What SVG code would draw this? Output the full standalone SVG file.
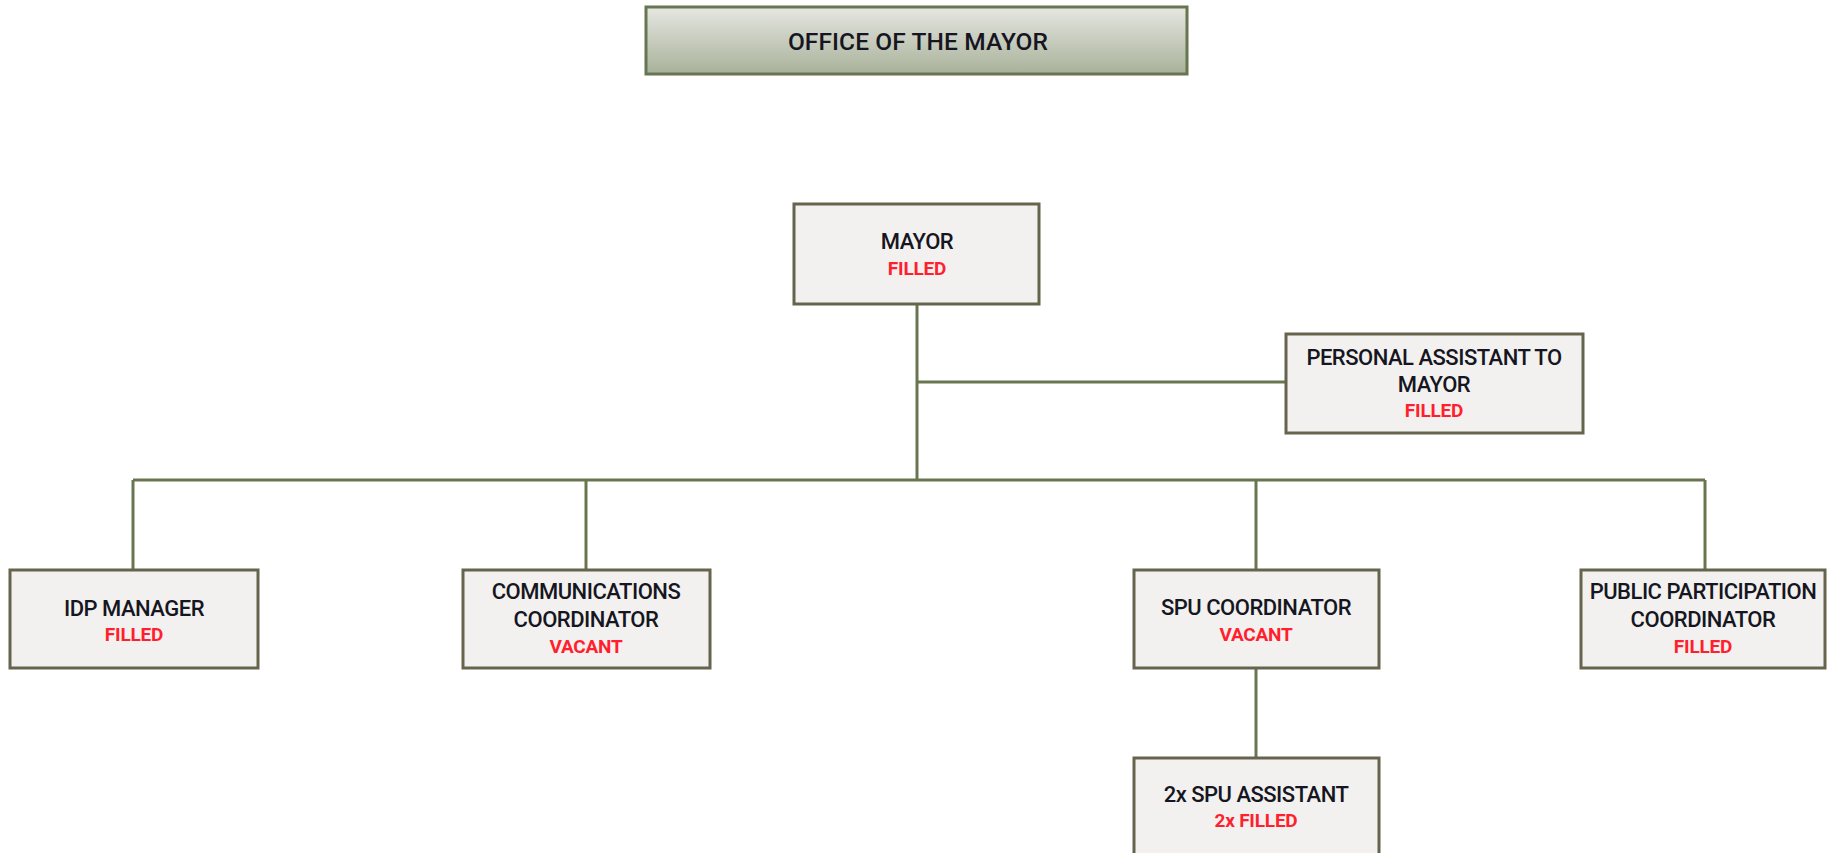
<svg xmlns="http://www.w3.org/2000/svg" width="1827" height="853" viewBox="0 0 1827 853">
  <defs>
    <linearGradient id="titleFill" x1="0" y1="0" x2="0" y2="1">
      <stop offset="0" stop-color="#e6e7e2"/>
      <stop offset="1" stop-color="#a8b199"/>
    </linearGradient>
    <style>
      .box { fill: #f2f1ef; stroke: #66644c; stroke-width: 3; }
      .title { fill: url(#titleFill); stroke: #677651; stroke-width: 3; }
      .link { fill: none; stroke: #687650; stroke-width: 3; }
      .name { font-family: Roboto, "Liberation Sans", sans-serif; font-size: 22px; font-weight: 500; fill: #161622; text-anchor: middle; letter-spacing: -0.5px; }
      .status { font-family: Roboto, "Liberation Sans", sans-serif; font-size: 19px; font-weight: bold; fill: #ff1f2e; text-anchor: middle; letter-spacing: -0.2px; }
      .head { font-family: Roboto, "Liberation Sans", sans-serif; font-size: 24.5px; font-weight: 500; fill: #161622; text-anchor: middle; letter-spacing: 0.1px; }
    </style>
  </defs>

  <rect width="1827" height="853" fill="#ffffff"/>

  <!-- connectors -->
  <g id="connectors">
    <path class="link" d="M917 304 V480"/>
    <path class="link" d="M917 382 H1286"/>
    <path class="link" d="M133 480 H1705"/>
    <path class="link" d="M133 480 V570"/>
    <path class="link" d="M586 480 V570"/>
    <path class="link" d="M1256 480 V570"/>
    <path class="link" d="M1705 480 V570"/>
    <path class="link" d="M1256 668 V758"/>
  </g>

  <g id="office">
    <rect class="title" x="646" y="7" width="541" height="67"/>
    <text class="head" x="918" y="50">OFFICE OF THE MAYOR</text>
  </g>

  <g id="mayor">
    <rect class="box" x="794" y="204" width="245" height="100"/>
    <text class="name" x="917" y="249">MAYOR</text>
    <text class="status" x="917" y="275">FILLED</text>
  </g>

  <g id="personal-assistant">
    <rect class="box" x="1286" y="334" width="297" height="99"/>
    <text class="name" x="1434" y="365">PERSONAL ASSISTANT TO</text>
    <text class="name" x="1434" y="392">MAYOR</text>
    <text class="status" x="1434" y="417">FILLED</text>
  </g>

  <g id="idp-manager">
    <rect class="box" x="10" y="570" width="248" height="98"/>
    <text class="name" x="134" y="616">IDP MANAGER</text>
    <text class="status" x="134" y="641">FILLED</text>
  </g>

  <g id="communications">
    <rect class="box" x="463" y="570" width="247" height="98"/>
    <text class="name" x="586" y="599">COMMUNICATIONS</text>
    <text class="name" x="586" y="627">COORDINATOR</text>
    <text class="status" x="586" y="653">VACANT</text>
  </g>

  <g id="spu-coordinator">
    <rect class="box" x="1134" y="570" width="245" height="98"/>
    <text class="name" x="1256" y="615">SPU COORDINATOR</text>
    <text class="status" x="1256" y="641">VACANT</text>
  </g>

  <g id="public-participation">
    <rect class="box" x="1581" y="570" width="244" height="98"/>
    <text class="name" x="1703" y="599">PUBLIC PARTICIPATION</text>
    <text class="name" x="1703" y="627">COORDINATOR</text>
    <text class="status" x="1703" y="653">FILLED</text>
  </g>

  <g id="spu-assistant">
    <rect class="box" x="1134" y="758" width="245" height="110"/>
    <text class="name" x="1256" y="802">2x SPU ASSISTANT</text>
    <text class="status" x="1256" y="827">2x FILLED</text>
  </g>
</svg>
